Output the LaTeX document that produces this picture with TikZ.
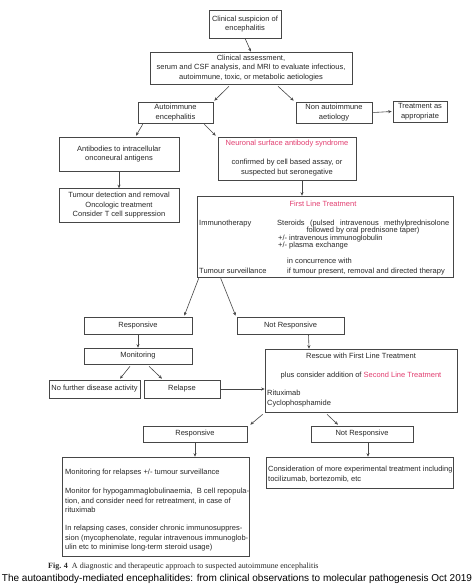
\documentclass[tikz,border=0pt]{standalone}
\usepackage{fontspec}
\setmainfont{Liberation Sans}
\newfontfamily\serifcap{Liberation Serif}
\usetikzlibrary{calc,arrows.meta}
\definecolor{pinkred}{RGB}{226,62,112}
\definecolor{linegray}{RGB}{70,70,70}
\definecolor{txt}{RGB}{40,40,40}
\newcommand\fsz{\fontsize{7.5}{9.5}\selectfont}
\tikzset{
  bx/.style={draw=linegray, line width=0.6pt, inner sep=0pt, text=txt, font=\fsz, align=center},
  tx/.style={inner sep=0pt, text=txt, font=\fsz},
  arr/.style={draw=linegray, line width=0.6pt, -{Stealth[length=3.5pt,width=3pt]}},
}
\begin{document}
\begin{tikzpicture}[x=1pt,y=-1pt]
\useasboundingbox[fill=white] (0,0) rectangle (474,586);

% boxes
\node[bx, minimum width=72pt, minimum height=28pt] (n1) at (245,24) {Clinical suspicion of\\encephalitis};
\node[bx, minimum width=202pt, minimum height=32pt] (n2) at (251,68) {Clinical assessment,\\serum and CSF analysis, and MRI to evaluate infectious,\\autoimmune, toxic, or metabolic aetiologies};
\node[bx, minimum width=75pt, minimum height=21pt] (ai) at (175.5,112.5) {Autoimmune\\encephalitis};
\node[bx, minimum width=76pt, minimum height=21pt] (nai) at (334,112.5) {Non autoimmune\\aetiology};
\node[bx, minimum width=54pt, minimum height=21pt] (treat) at (420,111.5) {Treatment as\\appropriate};
\node[bx, minimum width=120pt, minimum height=34pt] (ab) at (119,154) {Antibodies to intracellular\\onconeural antigens};
\node[bx, minimum width=138pt, minimum height=43pt] (ns) at (287,158.5) {};
\node[tx, text=pinkred, anchor=mid] (nst) at (287,143) {Neuronal surface antibody syndrome};
\node[tx, align=center] (nsb) at (287,167.5) {confirmed by cell based assay, or\\suspected but seronegative};
\node[bx, minimum width=120pt, minimum height=34pt] (tum) at (119,205.5) {Tumour detection and removal\\Oncologic treatment\\Consider T cell suppression};

\node[bx, minimum width=256pt, minimum height=81pt] (flt) at (325,236.5) {};
\node[tx, text=pinkred, anchor=mid] (flt1) at (323,204) {First Line Treatment};
\node[tx, anchor=mid west] (flt2) at (199,223) {Immunotherapy};
\node[tx, anchor=mid west] (flt3) at (277,223) {\makebox[172pt][s]{Steroids (pulsed intravenous methylprednisolone}};
\node[tx, anchor=mid] (flt4) at (363,230.3) {followed by oral prednisone taper)};
\node[tx, anchor=mid west] (flt5) at (278,237.6) {+/- intravenous immunoglobulin};
\node[tx, anchor=mid west] (flt6) at (278,244.9) {+/- plasma exchange};
\node[tx, anchor=mid west] (flt7) at (287,261) {in concurrence with};
\node[tx, anchor=mid west] (flt8) at (199,271) {Tumour surveillance};
\node[tx, anchor=mid west] (flt9) at (287,271) {if tumour present, removal and directed therapy};

\node[bx, minimum width=108pt, minimum height=17pt] (resp) at (138,325.5) {Responsive};
\node[bx, minimum width=107pt, minimum height=17pt] (nresp) at (290.5,325.5) {Not Responsive};
\node[bx, minimum width=108pt, minimum height=16pt] (mon) at (138,356) {Monitoring};
\node[bx, minimum width=91pt, minimum height=18pt] (nf) at (94.5,389) {No further disease activity};
\node[bx, minimum width=76pt, minimum height=18pt] (rel) at (182,389) {Relapse};

\node[bx, minimum width=192pt, minimum height=63pt] (res) at (361,380.5) {};
\node[tx, anchor=mid] (res1) at (361,356) {Rescue with First Line Treatment};
\node[tx, anchor=mid] (res2) at (361,375) {plus consider addition of \textcolor{pinkred}{Second Line Treatment}};
\node[tx, anchor=mid west] (res3) at (267,393) {Rituximab};
\node[tx, anchor=mid west] (res4) at (267,403) {Cyclophosphamide};

\node[bx, minimum width=104pt, minimum height=16pt] (resp2) at (195,434) {Responsive};
\node[bx, minimum width=102pt, minimum height=16pt] (nresp2) at (362,434) {Not Responsive};

\node[bx, minimum width=187pt, minimum height=99pt] (mb) at (155.5,506.5) {};
\node[tx, anchor=mid west] (mb1) at (65,472) {Monitoring for relapses +/- tumour surveillance};
\node[tx, anchor=north west, align=left] (mb2) at (65,488) {Monitor for hypogammaglobulinaemia,\ \ B cell repopula-\\tion, and consider need for retreatment, in case of\\rituximab};
\node[tx, anchor=north west, align=left] (mb3) at (65,525) {In relapsing cases, consider chronic immunosuppres-\\sion (mycophenolate, regular intravenous immunoglob-\\ulin etc to minimise long-term steroid usage)};

\node[bx, minimum width=187pt, minimum height=31pt] (cons) at (359.5,472.5) {};
\node[tx, anchor=north west, align=left] (cons1) at (268,466) {Consideration of more experimental treatment including\\tocilizumab, bortezomib, etc};

% captions
\node[inner sep=0pt, anchor=mid west, font=\serifcap\fontsize{8}{9}\selectfont, text=txt] (cap) at (48,566) {\textbf{Fig. 4}\ \ A diagnostic and therapeutic approach to suspected autoimmune encephalitis};
\node[inner sep=0pt, anchor=mid, font=\fontsize{10}{11}\selectfont, text=black] (src) at (237,578.5) {The autoantibody-mediated encephalitides: from clinical observations to molecular pathogenesis Oct 2019};

% arrows
\coordinate (c1) at ($(nresp2.south)+(6,0)$);
\draw[arr] (n1.south) -- (n2.north);
\draw[arr] ($(n2.south)+(-22,2)$) -- ($(ai.north east)+(1,-1)$);
\draw[arr] ($(n2.south)+(27,2)$) -- ($(nai.north west)+(-2,-1)$);
\draw[arr] ($(nai.east)+(1,0)$) -- ($(treat.west)+(-1,0)$);
\draw[arr] ($(ai.south west)+(5,1)$) -- ($(ab.north)+(17,-1)$);
\draw[arr] ($(ai.south east)+(-9,1)$) -- ($(ns.north west)+(-2,-1)$);
\draw[arr] (ab.south) -- (tum.north);
\draw[arr] ($(ns.south)+(15,0)$) -- ($(flt.north)+(-23,0)$);
\draw[arr] ($(flt.south west)+(2,1)$) -- ($(resp.north east)+(-8,-1)$);
\draw[arr] ($(flt.south west)+(24,1)$) -- ($(nresp.north west)+(-1,-1)$);
\draw[arr] (resp.south) -- (mon.north);
\draw[arr] ($(nresp.south)+(18,0)$) -- ($(res.north)+(-52,0)$);
\draw[arr] ($(mon.south)+(-8,2)$) -- ($(nf.north)+(25.5,-1)$);
\draw[arr] ($(mon.south)+(11,2)$) -- ($(rel.north)+(-20,-1)$);
\draw[arr] (rel.east) -- (rel.east -| res.west);
\draw[arr] ($(res.south west)+(-2,2)$) -- ($(resp2.north east)+(3,-1)$);
\draw[arr] ($(res.south)+(-34,2)$) -- ($(nresp2.north)+(-24,-1)$);
\draw[arr] (resp2.south) -- (resp2.south |- mb.north);
\draw[arr] (c1) -- (c1 |- cons.north);
\end{tikzpicture}
\end{document}
